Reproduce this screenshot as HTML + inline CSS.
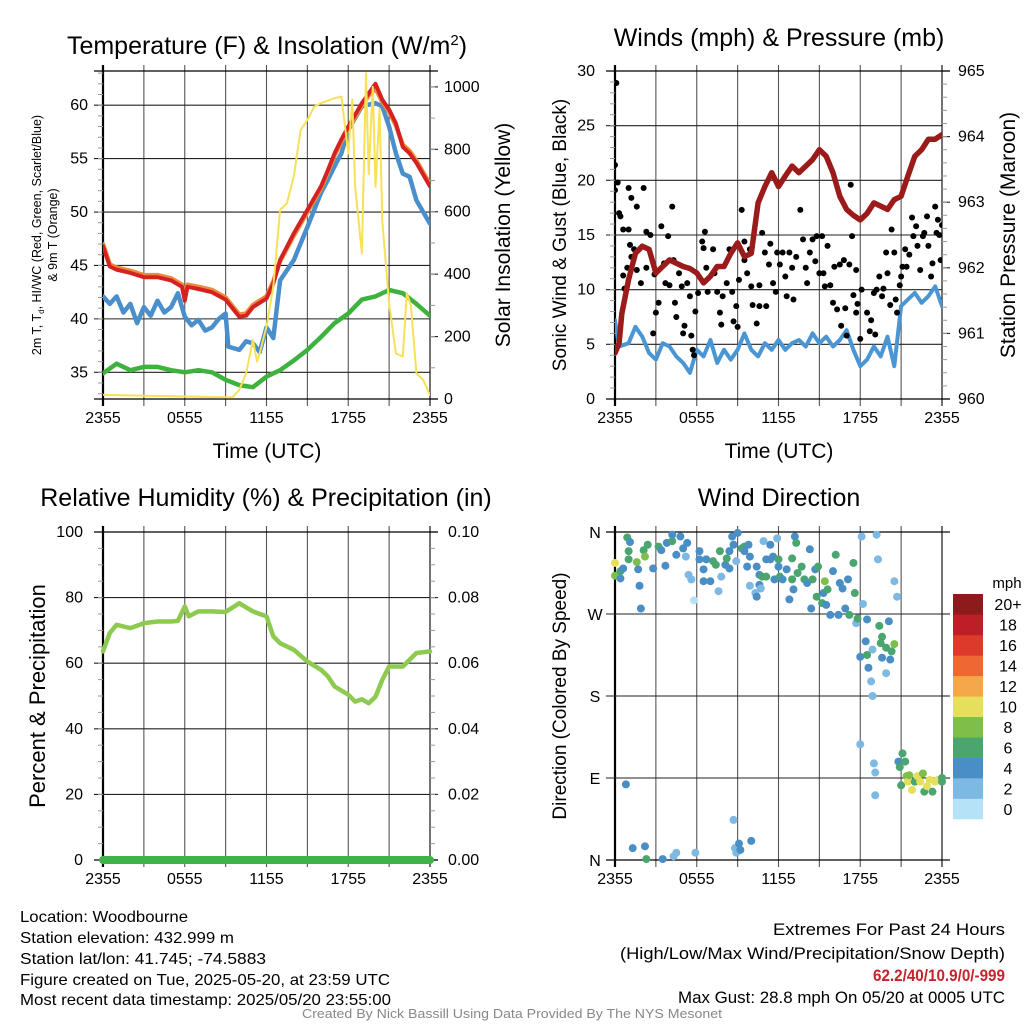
<!DOCTYPE html>
<html><head><meta charset="utf-8"><style>
html,body{margin:0;padding:0;background:#fff;width:1024px;height:1024px;overflow:hidden}
svg{display:block;font-family:"Liberation Sans",sans-serif}
.ft{font-family:"Liberation Sans Narrow","Liberation Sans",sans-serif}
</style></head><body>
<svg id="chart" width="1024" height="1024" viewBox="0 0 1024 1024" xmlns="http://www.w3.org/2000/svg">
<defs>
<clipPath id="c1"><rect x="103" y="71" width="327" height="328"/></clipPath>
<clipPath id="c2"><rect x="615" y="71" width="327" height="328"/></clipPath>
<clipPath id="c3"><rect x="95" y="524" width="343" height="344"/></clipPath>
<clipPath id="c4"><rect x="605" y="524" width="345" height="344"/></clipPath>
</defs>
<g id="grid"></g>
<g id="marks"></g>
<g id="labels"></g>
<text x="267" y="54" font-size="25" text-anchor="middle">Temperature (F) &amp; Insolation (W/m<tspan dy="-9" font-size="15">2</tspan><tspan dy="9">)</tspan></text>
<text x="779" y="46" font-size="25" text-anchor="middle">Winds (mph) &amp; Pressure (mb)</text>
<text x="266" y="506" font-size="25" text-anchor="middle">Relative Humidity (%) &amp; Precipitation (in)</text>
<text x="779" y="506" font-size="25" text-anchor="middle">Wind Direction</text>
<g class="ft" font-size="16">
<text x="20" y="922" textLength="168" lengthAdjust="spacingAndGlyphs">Location: Woodbourne</text>
<text x="20" y="943" textLength="214" lengthAdjust="spacingAndGlyphs">Station elevation: 432.999 m</text>
<text x="20" y="964" textLength="246" lengthAdjust="spacingAndGlyphs">Station lat/lon: 41.745; -74.5883</text>
<text x="20" y="985" textLength="370" lengthAdjust="spacingAndGlyphs">Figure created on Tue, 2025-05-20, at 23:59 UTC</text>
<text x="20" y="1005" textLength="371" lengthAdjust="spacingAndGlyphs">Most recent data timestamp: 2025/05/20 23:55:00</text>
</g>
<g class="ft" font-size="17">
<text x="773" y="935" textLength="232" lengthAdjust="spacingAndGlyphs">Extremes For Past 24 Hours</text>
<text x="620" y="959" textLength="385" lengthAdjust="spacingAndGlyphs">(High/Low/Max Wind/Precipitation/Snow Depth)</text>
<text x="873" y="981" textLength="132" lengthAdjust="spacingAndGlyphs" fill="#c8232c" font-weight="bold">62.2/40/10.9/0/-999</text>
<text x="678" y="1003" textLength="327" lengthAdjust="spacingAndGlyphs">Max Gust: 28.8 mph On 05/20 at 0005 UTC</text>
</g>
<text class="ft" x="302" y="1018" font-size="13" textLength="420" lengthAdjust="spacingAndGlyphs" fill="#888">Created By Nick Bassill Using Data Provided By The NYS Mesonet</text>
</svg>
<script>
// ---- data ----
const hours = [0,0.5,1,2,3,4,5,5.8,6,6.2,7,8,9,10,10.5,11,12,12.5,13,14,15,16,16.5,17,17.5,18,19,19.5,20,20.5,21,21.5,22,22.5,23,24];
const tempRed = [46.8,44.9,44.6,44.3,43.9,43.9,43.6,43.0,41.7,43.0,42.8,42.5,41.8,40.2,40.3,41.1,41.9,43.3,45.5,48,50.2,52.4,53.9,55.5,56.8,58,60.2,61.1,62,60.5,59.6,58.3,56.1,55.5,54.6,52.4];
const tempOrange = [47.0,45.1,44.8,44.5,44.1,44.1,43.8,43.2,41.9,43.2,43.0,42.7,42.0,40.4,40.5,41.3,42.1,43.5,45.4,47.8,50.0,52.2,53.7,55.3,56.6,57.8,60.0,60.9,61.6,60.3,59.4,58.1,56.3,55.7,54.8,52.6];
const bHours = [0,0.5,1,1.5,2,2.5,3,3.5,4,4.5,5,5.5,6,6.5,7,7.5,8,8.5,9,9.2,10,10.5,11,11.5,12,12.5,13,14,15,16,16.5,17,17.5,18,19,20,20.5,21,21.5,22,22.5,23,23.5,24];
const tempBlue = [42.1,41.4,42.1,40.6,41.4,39.6,41.1,40.3,41.7,40.6,41.1,42.4,40.2,39.4,39.9,38.9,39.2,40.0,40.5,37.4,37.1,37.9,37.7,36.9,39.2,38.2,43.6,45.5,48.6,51.8,53,54.3,55.5,57.7,59.9,60.2,59.9,58.0,55.5,53.6,53.3,51.1,50.0,48.9];
const gHours = [0,1,2,3,4,5,6,7,8,9,10,11,12,13,14,15,16,17,18,19,20,21,22,23,24];
const dewGreen = [34.9,35.8,35.2,35.5,35.5,35.2,35.0,35.2,35.0,34.3,33.8,33.6,34.6,35.2,36.1,37.1,38.3,39.6,40.5,41.8,42.1,42.7,42.4,41.4,40.3];
const sHours = [0,9.5,10,10.5,11,11.3,11.5,12,12.5,13,13.5,14,14.5,15,15.5,16,17,17.5,18,18.3,18.5,19,19.3,19.5,19.8,20,20.3,20.5,21,21.5,22,22.3,22.6,23,23.5,24];
const solar = [13,5,29,82,189,120,146,232,360,606,627,713,862,894,937,948,964,969,787,960,681,467,1044,720,1000,680,930,570,307,146,136,339,300,82,61,13];
const pHours = [0,0.3,0.5,1,1.5,2,2.5,3,3.5,4,5,5.5,6,6.5,7,7.5,8,8.5,9,9.5,10,10.5,11,11.5,12,12.5,13,13.5,14,14.5,15,15.5,16,16.5,17,17.5,18,18.5,19,19.5,20,20.5,21,21.5,22,22.5,23,23.5,24];
const pressure = [960.70,960.85,961.3,961.82,962.22,962.33,962.28,961.92,962.02,962.12,962.02,961.99,961.92,961.77,961.87,962.02,962.02,962.22,962.38,962.17,962.22,962.99,963.24,963.45,963.24,963.40,963.55,963.45,963.55,963.65,963.80,963.70,963.45,963.09,962.89,962.80,962.73,962.83,962.99,962.94,962.89,963.04,963.09,963.40,963.70,963.80,963.96,963.96,964.03];
const wHours = [0,0.3,1,1.5,2,2.5,3,3.5,4,4.5,5,5.5,6,6.5,7,7.5,8,8.5,9,9.5,10,10.5,11,11.5,12,12.5,13,13.5,14,14.5,15,15.5,16,16.5,17,17.5,18,18.5,19,19.5,20,20.5,21,21.5,22,22.5,23,23.5,24];
const sonic = [7.2,4.8,5.1,6.6,5.7,4.2,3.6,5.1,4.8,3.9,3.3,2.4,4.5,3.9,5.4,3.3,4.5,3.6,4.5,6.0,4.5,3.9,5.1,4.5,5.4,4.5,5.1,5.4,4.8,6.0,5.1,5.7,4.8,5.4,6.3,4.5,3.0,3.6,4.8,3.9,5.7,3.0,8.5,9.1,9.7,8.8,9.4,10.3,8.5];
const gustHours = [0.1,0,0,0.2,0.3,0.4,0.6,1,0.6,0.7,0.9,1.1,1.2,1.4,1.6,1.9,1,1.2,1.6,2.1,2.3,2.3,2.6,2.8,2.9,3,3.2,3.4,3.6,3.7,3.9,4,4.2,4.3,4.4,4.5,4.7,4.9,5,5.1,5.3,5.5,5.6,5.7,5.8,5.9,6.1,6.4,6.5,6.6,6.7,6.8,7.2,7.3,7.5,7.7,7.8,7.9,8.2,8.4,8.6,8.7,8.9,9,9.1,9.3,9.5,9.5,9.7,9.9,10,10.1,10.4,10.6,10.6,10.8,11,11.1,11.3,11.4,11.6,11.8,11.9,12.1,12.3,12.5,12.6,12.8,13,13.1,13.3,13.6,13.8,14,14.1,14.3,14.5,14.7,14.8,15,15.2,15.3,15.4,15.6,15.8,16,16.1,16.3,16.5,16.6,16.8,16.9,17,17.2,17.3,17.4,17.5,17.7,17.7,17.8,18,18.1,18.5,18.7,18.8,19,19.1,19.2,19.4,19.6,19.7,19.9,20,20.2,20.3,20.5,20.6,20.7,20.9,21,21.1,21.3,21.4,21.6,21.8,21.9,22.1,22.2,22.4,22.6,22.7,22.9,23,23.2,23.3,23.5,23.6,23.7,23.8,23.9,24];
const gust = [28.9,21.4,19.1,19.8,17,16.7,15.5,15.5,11.3,10.1,12,14.1,13,13.7,11.8,10.6,19.3,18.4,17.6,19.3,15.3,12,15,6,11.4,7.9,8.8,15.8,12.4,10.6,14.9,10.4,17.6,12.7,8.8,7.5,11.5,10.3,6,6.7,10.6,9.4,5.8,4.5,4,8,9.7,14.4,13.8,15.3,12,9.8,13.7,11.5,9.8,7.9,6.8,9.4,10.6,13.7,9.8,7.1,8.5,6.6,10.9,17.3,14.4,12.7,11.5,13.7,10.3,8.6,6.9,10.4,8.5,15.2,13.4,8.5,12.3,14.2,10.6,9.8,13.4,12.3,13.4,11.2,9.4,13.4,12,9.1,13,17.3,14.6,12,10.6,13.4,14.6,12.6,14.9,11.5,14.9,11.5,10.3,14,10.4,8.8,12.1,8.2,12.3,6.7,12.7,8.3,5.8,12.3,19.6,14.9,9.5,11.8,7.9,8.7,5.5,10,7.9,6.2,7.2,9.7,5.9,10,11.2,9.4,10.1,13.4,11.5,8.6,15.5,13.4,9.1,7.9,10.4,11.2,12.1,13.7,12.1,13.2,16.6,14.9,15.8,14,11.8,14.9,15.2,16.7,14,11.2,12.4,17.6,15.2,16.4,15,12.7,15.9];
const rhHours = [0,0.5,1,2,3,4,5,5.5,6,6.3,7,8,9,10,11,11.5,12,12.5,13,14,15,16,16.5,17,18,18.5,19,19.5,20,20.5,21,22,23,24];
const rh = [63.6,69.2,71.7,70.7,72.2,72.7,72.7,72.9,77.3,74.3,75.8,75.8,75.6,78.3,75.8,75.0,74.3,68.2,66.1,64.1,60.5,58,56,52.9,50.4,48.3,49,47.8,49.8,54.9,59,59,63.1,63.6];
const precipHours = [0,24];
const precip = [0,0];
const dirHours = [0,0,0.4,0.4,0.9,1.1,1,1,0.6,1.6,1.7,1.8,1.9,2.1,2.2,2.4,2.8,3.2,3.4,3.8,3.7,4.2,4.2,4.5,4.8,5,5.2,5.3,5.4,5.6,5.8,6.2,6.2,6.5,6.5,6.7,7,7.2,7.4,7.7,7.8,7.6,8.1,8.2,8.4,8.4,8.6,8.7,8.9,9,9.3,9.5,9.5,9.7,9.8,9.9,9.9,10.3,10.4,10.4,10.6,10.6,10.7,10.8,10.9,11.1,11.1,11.4,11.4,11.6,11.7,11.9,12,12,12.1,12.3,12.6,12.8,13,13,13.1,13.2,13.3,13.4,13.7,13.9,14.1,14.3,14.4,14.5,14.7,14.8,14.9,15.2,15.3,15.4,15.5,15.6,15.8,16,16.2,16.4,16.5,16.7,16.9,17.1,17.2,17.5,17.6,17.7,17.8,18,18.1,18.2,18.4,18.5,18.5,18.6,18.8,18.9,18.9,18,19,19.1,19.1,19.2,19.3,19.4,19.6,19.5,19.6,19.9,19.9,20.1,20.2,20.3,20.5,20.5,20.7,20.8,20.9,21.1,21.3,21,21.4,21.5,21.6,21.8,22,22.2,22.4,22.6,22.7,22.9,23.1,23.3,23.5,23.7,24,24,0.8,1.3,2.2,2.3,3.5,4.3,4.5,5.9,8.7,8.8,8.9,9.1,9.2,10];
const dirDeg = [326,312,317,309,354,349,339,330,320,327,319,301,276,340,333,346,320,344,340,348,323,350,357,335,355,342,333,348,313,308,285,339,330,319,306,330,306,328,324,339,311,295,324,331,320,339,355,346,328,359,342,344,339,322,346,333,301,293,289,322,313,302,298,311,350,311,330,346,330,333,308,353,330,322,311,308,319,286,331,308,297,355,348,315,322,308,304,341,276,308,319,289,322,282,293,306,280,297,269,317,335,269,304,298,276,308,269,326,293,260,265,223,355,281,240,264,225,211,196,231,180,127,106,96,71,357,330,257,245,238,222,205,233,262,220,229,237,306,289,108,102,117,108,82,92,86,93,77,86,92,86,95,75,81,88,75,86,88,86,90,83,13,15,1,1,4,8,8,44,13,8,18,11,21];
const dirSpeed = [10,8,6,4,6,4,6,6,4,8,4,4,4,6,8,6,4,6,4,4,4,6,4,4,4,4,2,4,2,2,0,4,4,4,4,4,4,6,6,6,2,2,4,6,4,4,4,4,2,4,6,6,4,4,4,4,2,2,4,4,4,4,2,6,2,6,4,4,4,4,4,2,6,4,6,4,4,4,6,6,4,4,6,6,6,6,4,4,4,6,4,6,6,6,4,8,4,6,4,4,6,4,4,4,4,4,6,6,6,2,6,4,2,2,4,4,6,4,2,2,2,2,2,2,2,2,2,6,6,6,4,2,6,4,4,6,8,2,2,4,6,6,6,6,8,10,8,10,6,10,10,8,6,10,10,6,10,10,6,6,4,4,4,6,4,2,2,2,2,2,2,4,4,4];
const tempTicks = [35,40,45,50,55,60];
const solarTicks = [0,200,400,600,800,1000];
const windTicks = [0,5,10,15,20,25,30];
const presTicks = [960,961,962,963,964,965];
const rhTicks = [0,20,40,60,80,100];
const prTicks = ["0.00","0.02","0.04","0.06","0.08","0.10"];
const dirTicks = [0,90,180,270,360];
const dirTickLabels = ["N","E","S","W","N"];
const timeTicks = [0,6,12,18,24];
const timeTickLabels = ["2355","0555","1155","1755","2355"];
const speedLegend = ["0","2","4","6","8","10","12","14","16","18","20+"];
const speedColors = ["#b5e2f7","#7db9e3","#4a8ec6","#4aa56f","#7dbf48","#e6df5b","#f5a84a","#ef6731","#dd3a2b","#be1f26","#8e1b1b"];

// ---- helpers ----
const NS="http://www.w3.org/2000/svg";
const gGrid=document.getElementById('grid'), gMarks=document.getElementById('marks'), gLab=document.getElementById('labels');
function mk(tag, attrs, parent){const e=document.createElementNS(NS,tag);for(const k in attrs)e.setAttribute(k,attrs[k]);parent.appendChild(e);return e;}
function lin(d0,d1,r0,r1){return v=>r0+(v-d0)/(d1-d0)*(r1-r0);}
function txt(x,y,s,size,anchor,parent,rot){const e=mk('text',{x:x,y:y,'font-size':size,'text-anchor':anchor},parent);if(rot)e.setAttribute('transform','rotate(-90 '+x+' '+y+')');e.textContent=s;return e;}

const panels=[
 {L:103,R:430,T:71,B:399},{L:615,R:942,T:71,B:399},{L:103,R:430,T:532,B:860},{L:615,R:942,T:532,B:860}];

function frame(p, yTicksPx, yTicksPxR, minorL, minorR){
 const xs=lin(0,24,p.L,p.R);
 for(let h=0;h<=24;h+=3){
   const l=mk('line',{x1:xs(h),x2:xs(h),y1:p.T-6,y2:p.B+7,stroke:(h==0||h==24)?'#000':'#555','stroke-width':(h==0)?2.2:1.1},gGrid);
   
   
 }
 for(const y of yTicksPx){
   const l=mk('line',{x1:p.L-9,x2:p.R,y1:y,y2:y,stroke:'#222','stroke-width':1.1},gGrid);
   
   
 }
 for(const y of yTicksPxR){
   mk('line',{x1:p.R,x2:p.R+8,y1:y,y2:y,stroke:'#222','stroke-width':1.1},gGrid);
 }
 for(const y of minorL) mk('line',{x1:p.L-5,x2:p.L,y1:y,y2:y,stroke:'#999','stroke-width':1},gGrid);
 for(const y of minorR) mk('line',{x1:p.R,x2:p.R+5,y1:y,y2:y,stroke:'#999','stroke-width':1},gGrid);
 mk('line',{x1:p.L-9,x2:p.R+8,y1:p.T,y2:p.T,stroke:'#000','stroke-width':1.2},gGrid);
 mk('line',{x1:p.L-9,x2:p.R+8,y1:p.B,y2:p.B,stroke:'#000','stroke-width':1.2},gGrid);
 timeTicks.forEach((h,i)=>{const t=txt(xs(h),p.B+24,timeTickLabels[i],16,'middle',gLab);
   
   });
 return xs;
}
function poly(xs,ys,X,Y,attrs,clip,name){
 const pts=X.map((v,i)=>xs(v).toFixed(1)+','+ys(Y[i]).toFixed(1)).join(' ');
 const a=Object.assign({points:pts,fill:'none','stroke-linejoin':'round','stroke-linecap':'round','clip-path':'url(#'+clip+')'},attrs);
 const e=mk('polyline',a,gMarks);
 
 
 return e;
}
function range(a,b,s){const r=[];for(let v=a;v<=b+1e-9;v+=s)r.push(v);return r;}

// ---- Panel 1: temperature ----
{const p=panels[0];const yT=lin(32.5,63.2,p.B,p.T);const yS=lin(0,1051,p.B,p.T);
 const xs=frame(p,tempTicks.map(yT),solarTicks.map(yS),range(33,63,1).map(yT),range(0,1050,100).map(yS));
 tempTicks.forEach(v=>{const t=txt(p.L-15,yT(v)+5,String(v),16,'end',gLab);});
 solarTicks.forEach(v=>{const t=txt(p.R+14,yS(v)+5,String(v),16,'start',gLab);});
 poly(xs,yT,gHours,dewGreen,{stroke:'#3db33d','stroke-width':4.5},'c1','dewpoint-line');
 poly(xs,yT,bHours,tempBlue,{stroke:'#4a8fcc','stroke-width':4.5},'c1','windchill-line');
 poly(xs,yT,hours,tempOrange,{stroke:'#f08a3a','stroke-width':4.5},'c1','temp-9m-line');
 poly(xs,yT,hours,tempRed,{stroke:'#d42222','stroke-width':4},'c1','temp-2m-line');
 poly(xs,yS,sHours,solar,{stroke:'#f8e058','stroke-width':2},'c1','solar-line');
 let t=txt(267,458,'Time (UTC)',21,'middle',gLab);
 t=txt(510,235,'Solar Insolation (Yellow)',21,'middle',gLab,true);
 const g=mk('text',{x:41,y:235,'font-size':12.5,'text-anchor':'middle',transform:'rotate(-90 41 235)'},gLab);
 
 g.innerHTML='2m T, T<tspan font-size="8" dy="3">d</tspan><tspan dy="-3">, HI/WC (Red, Green, Scarlet/Blue)</tspan>';
 t=txt(57,235,'& 9m T (Orange)',12.5,'middle',gLab,true);
}
// ---- Panel 2: winds ----
{const p=panels[1];const yW=lin(0,30,p.B,p.T);const yP=lin(960,965,p.B,p.T);
 const xs=frame(p,windTicks.map(yW),presTicks.map(yP),range(0,30,1).map(yW),range(960,965,0.2).map(yP));
 windTicks.forEach(v=>{const t=txt(p.L-20,yW(v)+5,String(v),16,'end',gLab);});
 presTicks.forEach(v=>{const t=txt(p.R+16,yP(v)+5,String(v),16,'start',gLab);});
 poly(xs,yW,wHours,sonic,{stroke:'#4a96d4','stroke-width':4},'c2','sonic-wind-line');
 gustHours.forEach((h,i)=>{const c=mk('circle',{cx:xs(h),cy:yW(gust[i]),r:3,fill:'#000','clip-path':'url(#c2)'},gMarks);
   
   });
 poly(xs,yP,pHours,pressure,{stroke:'#9b1b1b','stroke-width':5.5},'c2','pressure-line');
 let t=txt(779,458,'Time (UTC)',21,'middle',gLab);
 t=txt(566,235,'Sonic Wind & Gust (Blue, Black)',19,'middle',gLab,true);
 t=txt(1015,235,'Station Pressure (Maroon)',21,'middle',gLab,true);
}
// ---- Panel 3: RH ----
{const p=panels[2];const yR=lin(0,100,p.B,p.T);const yPr=lin(0,0.1,p.B,p.T);
 const xs=frame(p,rhTicks.map(yR),prTicks.map(v=>yPr(+v)),range(0,100,5).map(yR),range(0,0.1,0.005).map(yPr));
 rhTicks.forEach(v=>{const t=txt(p.L-20,yR(v)+5,String(v),16,'end',gLab);});
 prTicks.forEach(v=>{const t=txt(p.R+18,yPr(+v)+5,v,16,'start',gLab);});
 poly(xs,yR,rhHours,rh,{stroke:'#8dca4f','stroke-width':4.5},'c3','rh-line');
 poly(xs,yPr,precipHours,precip,{stroke:'#3fb347','stroke-width':8},'c3','precip-line');
 const t=txt(45,696,'Percent & Precipitation',22,'middle',gLab,true);
}
// ---- Panel 4: wind direction ----
{const p=panels[3];const yD=lin(0,360,p.B,p.T);
 const xs=frame(p,dirTicks.map(yD),[],[],[]);
 dirTicks.forEach((v,i)=>{mk('line',{x1:p.R,x2:p.R+8,y1:yD(v),y2:yD(v),stroke:'#222','stroke-width':1.1},gGrid);
   const t=txt(p.L-20,yD(v)+6,dirTickLabels[i],16,'middle',gLab);});
 dirHours.forEach((h,i)=>{const ci=Math.min(10,Math.round(dirSpeed[i]/2));
   const c=mk('circle',{cx:xs(h),cy:yD(dirDeg[i]),r:4,fill:speedColors[ci],'clip-path':'url(#c4)'},gMarks);
   
   });
 const t=txt(566,696,'Direction (Colored By Speed)',19,'middle',gLab,true);
 const lg=mk('g',{},gLab);
 const top=594,bot=819,h=(bot-top)/speedColors.length;
 speedColors.forEach((c,i)=>{const y=bot-(i+1)*h;
   const r=mk('rect',{x:953,y:y,width:30,height:h+0.3,fill:c},lg);
   
   
   const tt=txt(1008,y+h/2+6,speedLegend[i],16,'middle',lg);
   
   });
 const u=txt(1007,588,'mph',15,'middle',lg);
}
</script>
</body></html>
